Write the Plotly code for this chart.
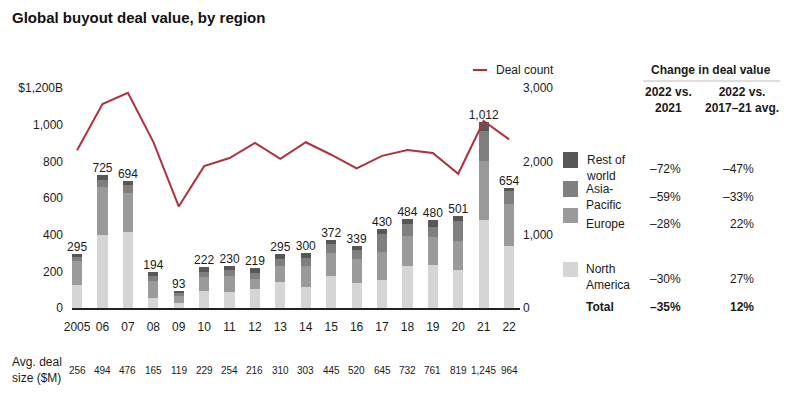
import plotly.graph_objects as go

years = ["2005", "06", "07", "08", "09", "10", "11", "12", "13", "14",
         "15", "16", "17", "18", "19", "20", "21", "22"]
north_america = [124, 400, 413, 57, 30, 92, 85, 102, 140, 115, 175, 135, 152, 230, 232, 207, 478, 336]
europe = [130, 260, 215, 90, 38, 75, 88, 55, 90, 115, 125, 130, 155, 165, 153, 160, 325, 234]
asia_pacific = [22, 40, 45, 25, 15, 30, 35, 35, 40, 45, 50, 50, 95, 62, 55, 110, 163, 68]
rest_of_world = [19, 25, 21, 22, 10, 25, 22, 27, 25, 25, 22, 24, 28, 27, 40, 24, 46, 16]
totals = [295, 725, 694, 194, 93, 222, 230, 219, 295, 300, 372, 339, 430, 484, 480, 501, 1012, 654]
deal_count = [2150, 2780, 2935, 2265, 1385, 1935, 2045, 2250, 2035, 2260, 2090, 1905, 2075, 2155, 2115, 1830, 2550, 2300]
avg_deal_size = ["256", "494", "476", "165", "119", "229", "254", "216", "310", "303",
                 "445", "520", "645", "732", "761", "819", "1,245", "964"]

left_ticks = [0, 200, 400, 600, 800, 1000, 1200]
left_ticktext = ["0", "200", "400", "600", "800", "1,000", "$1,200B"]
right_ticks = [0, 1000, 2000, 3000]
right_ticktext = ["0", "1,000", "2,000", "3,000"]

table_regions = ["Rest of<br>world", "Asia-<br>Pacific", "Europe", "North<br>America"]
chg_vs_2021 = ["–72%", "–59%", "–28%", "–30%"]
chg_vs_avg = ["–47%", "–33%", "22%", "27%"]
total_vs_2021 = "–35%"
total_vs_avg = "12%"

C_NA = "#d5d5d5"
C_EU = "#9a9a9a"
C_AP = "#7f7f7f"
C_ROW = "#575757"
C_LINE = "#b0303e"
FONT = "Liberation Sans, Arial, sans-serif"
TXT = "#1a1a1a"

# plot area in pixels
L, R, T, B = 72, 520, 88, 308
W, H = 800, 398


def px(x):
    return (x - L) / (R - L)


def py(y):
    return (B - y) / (B - T)


fig = go.Figure()
for name, vals, col in [("North America", north_america, C_NA), ("Europe", europe, C_EU),
                        ("Asia-Pacific", asia_pacific, C_AP), ("Rest of world", rest_of_world, C_ROW)]:
    fig.add_trace(go.Bar(x=years, y=vals, name=name, marker=dict(color=col, line=dict(width=0)),
                         width=0.4, showlegend=False))

fig.add_trace(go.Scatter(x=years, y=[t for t in totals], mode="text",
                         text=[f"{t:,}" for t in totals], textposition="top center",
                         textfont=dict(size=12, color=TXT, family=FONT), showlegend=False,
                         cliponaxis=False))

fig.add_trace(go.Scatter(x=years, y=deal_count, yaxis="y2", mode="lines",
                         line=dict(color=C_LINE, width=2), showlegend=False, name="Deal count"))

ann = []
shapes = []

# title
ann.append(dict(text="<b>Global buyout deal value, by region</b>", xref="paper", yref="paper",
                x=px(10), y=py(17), xanchor="left", yanchor="middle", showarrow=False,
                font=dict(size=15, color="#111", family=FONT)))

# deal count legend
shapes.append(dict(type="line", xref="paper", yref="paper", x0=px(473), x1=px(487),
                   y0=py(70), y1=py(70), line=dict(color=C_LINE, width=2)))
ann.append(dict(text="Deal count", xref="paper", yref="paper", x=px(494), y=py(70),
                xanchor="left", yanchor="middle", showarrow=False,
                font=dict(size=12, color=TXT, family=FONT)))

# avg deal size row
ann.append(dict(text="Avg. deal<br>size ($M)", xref="paper", yref="paper", x=px(10), y=py(370),
                xanchor="left", yanchor="middle", showarrow=False, align="left",
                font=dict(size=12, color=TXT, family=FONT)))
for i, v in enumerate(avg_deal_size):
    ann.append(dict(text=v, xref="x", yref="paper", x=i, y=py(370), xanchor="center",
                    yanchor="middle", showarrow=False, font=dict(size=10, color=TXT, family=FONT)))

# table header
ann.append(dict(text="<b>Change in deal value</b>", xref="paper", yref="paper", x=px(711), y=py(70),
                xanchor="center", yanchor="middle", showarrow=False,
                font=dict(size=12, color=TXT, family=FONT)))
shapes.append(dict(type="line", xref="paper", yref="paper", x0=px(643), x1=px(780),
                   y0=py(81), y1=py(81), line=dict(color="#bbbbbb", width=1)))
ann.append(dict(text="<b>2022 vs.<br>2021</b>", xref="paper", yref="paper", x=px(668), y=py(100),
                xanchor="center", yanchor="middle", showarrow=False,
                font=dict(size=12, color=TXT, family=FONT)))
ann.append(dict(text="<b>2022 vs.<br>2017–21 avg.</b>", xref="paper", yref="paper", x=px(742), y=py(100),
                xanchor="center", yanchor="middle", showarrow=False,
                font=dict(size=12, color=TXT, family=FONT)))

sq_y = [(152, 168), (181, 197), (208, 223), (262, 277)]
lab_y = [168, 197, 224, 277]
val_y = [169, 197, 224, 279]
colors = [C_ROW, C_AP, C_EU, C_NA]
for i in range(4):
    shapes.append(dict(type="rect", xref="paper", yref="paper", x0=px(563), x1=px(578),
                       y0=py(sq_y[i][1]), y1=py(sq_y[i][0]), fillcolor=colors[i], line=dict(width=0)))
    ann.append(dict(text=table_regions[i], xref="paper", yref="paper", x=px(584), y=py(lab_y[i]),
                    xanchor="left", yanchor="middle", showarrow=False, align="left",
                    font=dict(size=12, color=TXT, family=FONT)))
    ann.append(dict(text=chg_vs_2021[i], xref="paper", yref="paper", x=px(683), y=py(val_y[i]),
                    xanchor="right", yanchor="middle", showarrow=False,
                    font=dict(size=12, color=TXT, family=FONT)))
    ann.append(dict(text=chg_vs_avg[i], xref="paper", yref="paper", x=px(756), y=py(val_y[i]),
                    xanchor="right", yanchor="middle", showarrow=False,
                    font=dict(size=12, color=TXT, family=FONT)))

ann.append(dict(text="<b>Total</b>", xref="paper", yref="paper", x=px(584), y=py(307),
                xanchor="left", yanchor="middle", showarrow=False,
                font=dict(size=12, color=TXT, family=FONT)))
ann.append(dict(text=f"<b>{total_vs_2021}</b>", xref="paper", yref="paper", x=px(683), y=py(307),
                xanchor="right", yanchor="middle", showarrow=False,
                font=dict(size=12, color=TXT, family=FONT)))
ann.append(dict(text=f"<b>{total_vs_avg}</b>", xref="paper", yref="paper", x=px(756), y=py(307),
                xanchor="right", yanchor="middle", showarrow=False,
                font=dict(size=12, color=TXT, family=FONT)))

fig.update_layout(
    width=W, height=H,
    margin=dict(l=L, r=W - R, t=T, b=H - B, pad=0),
    paper_bgcolor="white", plot_bgcolor="white",
    barmode="stack", bargap=0,
    showlegend=False,
    font=dict(family=FONT, size=12, color=TXT),
    xaxis=dict(type="category", range=[-0.2, 17.43], showgrid=False, zeroline=False,
               showline=True, linecolor="#222", linewidth=2, ticks="",
               tickfont=dict(size=12, color=TXT), ticklabelstandoff=7),
    yaxis=dict(range=[0, 1200], tickvals=left_ticks, ticktext=left_ticktext, showgrid=False,
               zeroline=False, showline=False, ticks="", tickfont=dict(size=12, color=TXT),
               ticklabelstandoff=8),
    yaxis2=dict(range=[0, 3000], tickvals=right_ticks, ticktext=right_ticktext, overlaying="y",
                side="right", showgrid=False, zeroline=False, showline=False, ticks="",
                tickfont=dict(size=12, color=TXT), ticklabelstandoff=2),
    annotations=ann, shapes=shapes,
)

fig.write_html("out.html", config={"displayModeBar": False},
               post_script="document.body.style.margin='0';document.body.style.overflow='hidden';")
